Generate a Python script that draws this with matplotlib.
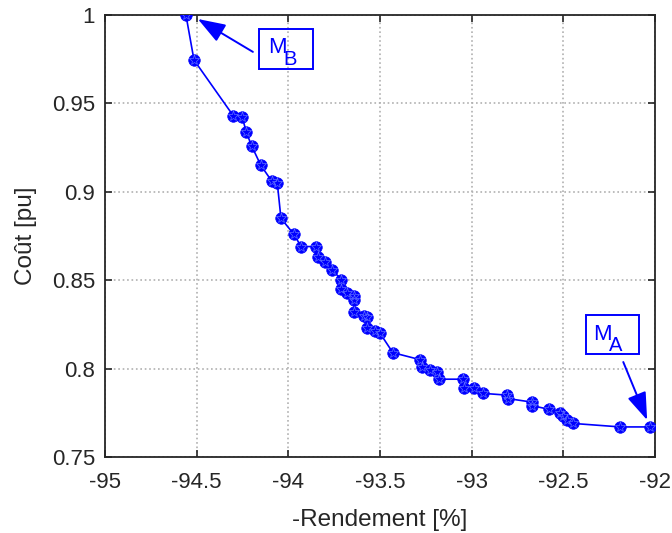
import matplotlib.pyplot as plt
from matplotlib.patches import Rectangle

# Pareto front: -rendement [%] vs cost [pu]
rendement = [-94.558, -94.514, -94.30, -94.25, -94.23, -94.20, -94.15, -94.09, -94.06,
             -94.04, -93.97, -93.93, -93.85, -93.84, -93.80, -93.76, -93.71, -93.71,
             -93.68, -93.64, -93.64, -93.64, -93.59, -93.57, -93.57, -93.53, -93.50,
             -93.43, -93.28, -93.27, -93.23, -93.19, -93.18, -93.05, -93.04, -92.99,
             -92.94, -92.81, -92.80, -92.67, -92.67, -92.58, -92.52, -92.50, -92.48,
             -92.45, -92.19, -92.03]
cout = [1.000, 0.9745, 0.943, 0.942, 0.934, 0.926, 0.915, 0.906, 0.905,
        0.885, 0.876, 0.869, 0.869, 0.863, 0.860, 0.856, 0.850, 0.845,
        0.843, 0.841, 0.839, 0.832, 0.830, 0.829, 0.823, 0.821, 0.820,
        0.809, 0.805, 0.801, 0.799, 0.798, 0.794, 0.794, 0.789, 0.789,
        0.786, 0.785, 0.783, 0.781, 0.779, 0.777, 0.775, 0.773, 0.771,
        0.769, 0.767, 0.767]

xticks = [-95, -94.5, -94, -93.5, -93, -92.5, -92]
xticklabels = ['-95', '-94.5', '-94', '-93.5', '-93', '-92.5', '-92']
yticks = [0.75, 0.8, 0.85, 0.9, 0.95, 1]
yticklabels = ['0.75', '0.8', '0.85', '0.9', '0.95', '1']

plt.rcParams['font.family'] = ['Liberation Sans', 'DejaVu Sans']
blue = '#0000ff'
dark = '#262626'

fig = plt.figure(figsize=(6.72, 5.33), dpi=100)
ax = fig.add_axes([0.156, 0.1426, 0.819, 0.8294])

ax.plot(rendement, cout, '-', color=blue, lw=1.2, marker='o', ms=8.3,
        mfc=blue, mec=blue, mew=0.5, zorder=3)
ax.plot(rendement, cout, ls='none', marker='*', ms=8, mec='#6070ff', mfc='none',
        mew=0.5, zorder=4)

ax.set_xlim(-95, -92)
ax.set_ylim(0.75, 1)
ax.set_xticks(xticks)
ax.set_xticklabels(xticklabels)
ax.set_yticks(yticks)
ax.set_yticklabels(yticklabels)
ax.tick_params(direction='in', labelsize=16, length=5, width=1.2, top=True, right=True,
               colors=dark)
ax.tick_params(axis='x', pad=11)
ax.tick_params(axis='y', pad=7)
ax.grid(True, ls=':', color='#b0b0b0', lw=1.2)
for s in ax.spines.values():
    s.set_linewidth(1.3)
    s.set_color(dark)

ax.set_xlabel('-Rendement [%]', fontsize=17.5, color=dark)
ax.set_ylabel('Coût [pu]', fontsize=17.5, color=dark)
ax.xaxis.set_label_coords(0.5, -0.118)
ax.yaxis.set_label_coords(-0.123, 0.5)

# annotations M_B and M_A
arrow = dict(arrowstyle='-|>,head_length=1.7,head_width=0.6', color=blue, lw=1.4,
             shrinkA=0, shrinkB=0)
ax.annotate('', xy=(-94.493, 0.9977), xytext=(-94.193, 0.9791),
            arrowprops=arrow, zorder=5)
ax.add_patch(Rectangle((-94.160, 0.96946), 0.295, 0.02262, fill=False, ec=blue,
                       lw=1.4, clip_on=False, zorder=5))
ax.text(-94.111, 0.9785, 'M', color=blue, fontsize=16, va='baseline')
ax.text(-94.025, 0.9717, 'B', color=blue, fontsize=14.5, va='baseline')

ax.annotate('', xy=(-92.044, 0.7709), xytext=(-92.174, 0.8037),
            arrowprops=arrow, zorder=5)
ax.add_patch(Rectangle((-92.376, 0.80826), 0.289, 0.02206, fill=False, ec=blue,
                       lw=1.4, clip_on=False, zorder=5))
ax.text(-92.338, 0.8161, 'M', color=blue, fontsize=16, va='baseline')
ax.text(-92.250, 0.8100, 'A', color=blue, fontsize=14.5, va='baseline')

fig.savefig('out.png', dpi=100)
